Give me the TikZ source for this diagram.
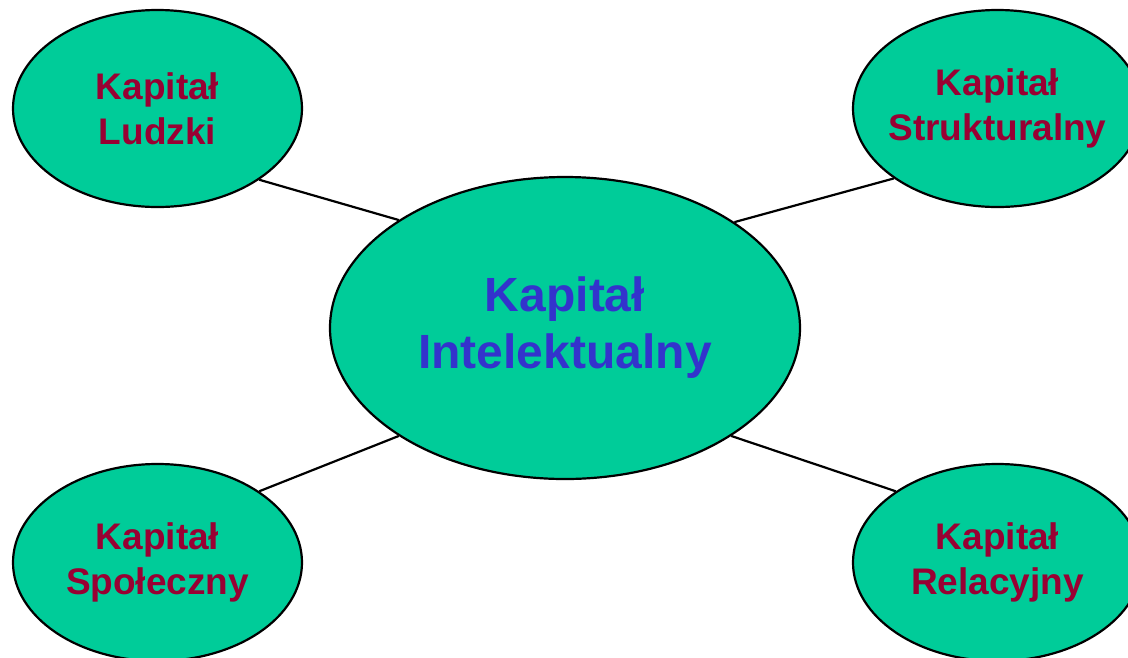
\documentclass[tikz,border=0pt]{standalone}
\usepackage{fontspec}
\setmainfont{Liberation Sans}
\usetikzlibrary{shapes.geometric}
\definecolor{fillgreen}{HTML}{00CC99}
\definecolor{maroontext}{HTML}{990033}
\definecolor{bluetext}{HTML}{3333CC}
\begin{document}
\begin{tikzpicture}[x=1pt,y=-1pt,
  blob/.style={ellipse, draw=black, line width=2.2pt, fill=fillgreen, inner sep=0pt,
    minimum width=289pt, minimum height=197pt, align=center,
    font=\fontsize{37}{45}\selectfont\bfseries, text=maroontext},
  hub/.style={ellipse, draw=black, line width=2.2pt, fill=fillgreen, inner sep=0pt,
    minimum width=470pt, minimum height=302pt, align=center,
    font=\fontsize{48}{57}\selectfont\bfseries, text=bluetext},
  link/.style={draw=black, line width=2.2pt}]
\useasboundingbox (0,0) rectangle (1128,657);
\clip (0,0) rectangle (1128,657);
\node[blob] (tl) at (157.5,108.5) {\makebox[120pt]{Kapitał}\\\makebox[120pt]{Ludzki}};
\node[blob] (tr) at (997.5,108.5) {\makebox[120pt]{Kapitał}\\\makebox[120pt]{Strukturalny}};
\node[blob] (bl) at (157.5,562.5) {\makebox[120pt]{Kapitał}\\\makebox[120pt]{Społeczny}};
\node[blob] (br) at (997.5,562.5) {\makebox[120pt]{Kapitał}\\\makebox[120pt]{Relacyjny}};
\node[hub] (c) at (565,328) {Kapitał\\Intelektualny};
\draw[link] (tl.-35) -- (c.147);
\draw[link] (tr.214) -- (c.32.5);
\draw[link] (bl.35) -- (c.213);
\draw[link] (br.145.5) -- (c.-33);
\end{tikzpicture}
\end{document}
